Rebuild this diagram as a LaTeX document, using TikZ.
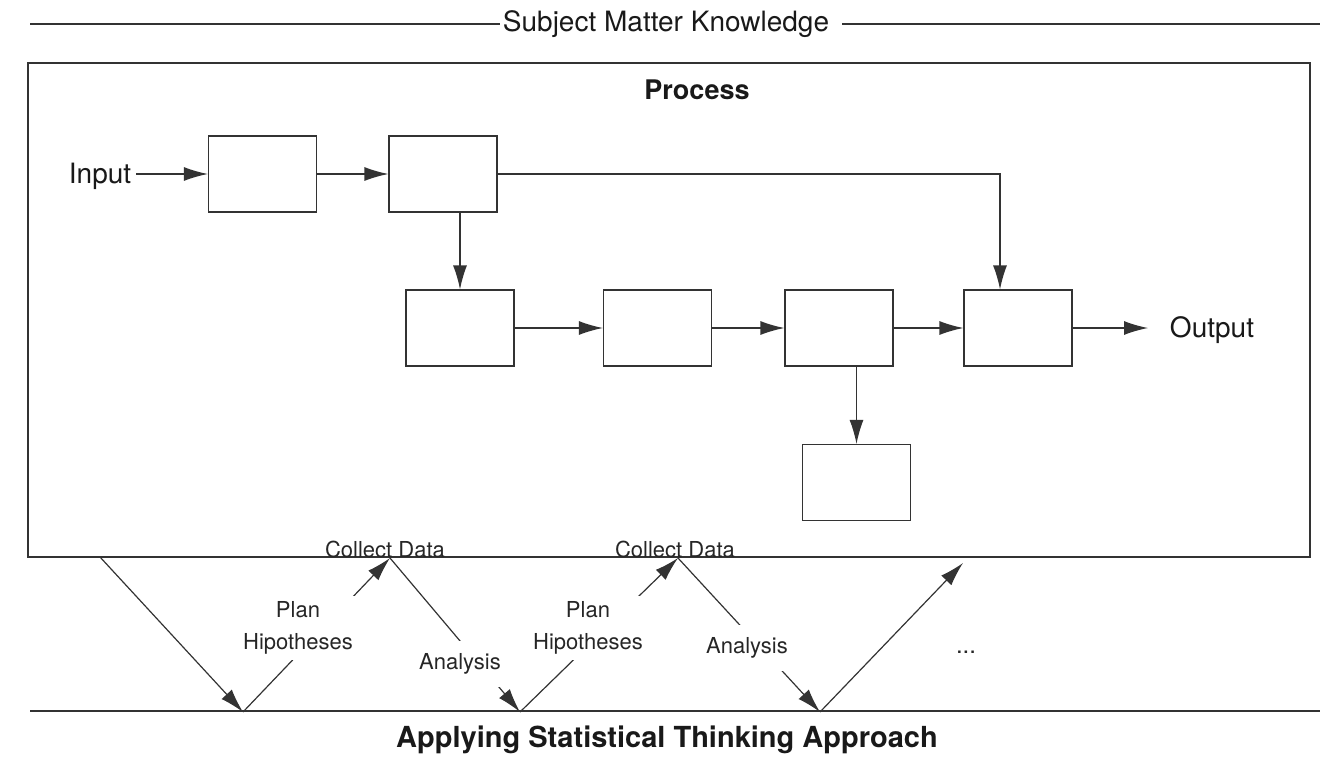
\documentclass[tikz,border=0pt]{standalone}
\usepackage{fontspec}
\setmainfont{TeX Gyre Heros}
\usetikzlibrary{arrows.meta}
\begin{document}
\begin{tikzpicture}[x=1pt,y=-1pt,
  ln/.style={line width=1.2pt,draw=black!80},
  arr/.style={ln,-{Latex[length=24pt,width=14pt]}},
  blk/.style={ln,rectangle,minimum width=108pt,minimum height=76pt,inner sep=0pt},
  big/.style={font=\fontsize{28}{32}\selectfont,text=black!90},
  bigb/.style={font=\fontsize{27}{32}\selectfont\bfseries,text=black!90},
  sml/.style={font=\fontsize{22}{32}\selectfont,text=black!85},
  lbl/.style={sml,fill=white,align=center}]
\path[use as bounding box] (0,0) rectangle (1322,757);

% top heading
\node[big,inner sep=3pt] (smk) at (666,24) {Subject Matter Knowledge};
\coordinate (tl) at (30,24);
\coordinate (tr) at (1320,24);
\draw[ln] (tl) -- (smk.west);
\draw[ln] ([xshift=10pt]smk.east) -- (tr);

% process frame
\node[ln,rectangle,minimum width=1282pt,minimum height=494pt,inner sep=0pt] (frame) at (669,310) {};
\node[bigb] (proc) at (697,90) {Process};

% boxes
\node[blk] (b1) at (262.5,174) {};
\node[blk] (b2) at (443,174) {};
\node[blk] (b3) at (460,328) {};
\node[blk] (b4) at (657.5,328) {};
\node[blk] (b5) at (839,328) {};
\node[blk] (b6) at (1018,328) {};
\node[blk] (b7) at (856.5,482.5) {};

\node[big,inner sep=5pt] (in) at (100,176) {Input};
\node[big,inner sep=4pt] (out) at (1212,330) {Output};
\coordinate (oe) at (1148,328);

\draw[arr] (in.east |- b1.west) -- (b1.west);
\draw[arr] (b1.east) -- (b2.west);
\draw[arr] (b2.east) -| ([xshift=-18pt]b6.north);
\draw[arr] (b3.north |- b2.south) -- (b3.north);
\draw[arr] (b3.east) -- (b4.west);
\draw[arr] (b4.east) -- (b5.west);
\draw[arr] (b5.east) -- (b6.west);
\draw[arr] (b6.east) -- (oe);
\draw[arr] (b7.north |- b5.south) -- (b7.north);

% bottom line and title
\coordinate (bl) at (30,711);
\coordinate (br) at (1320,711);
\draw[ln] (bl) -- (br);
\node[font=\fontsize{29}{32}\selectfont\bfseries,text=black!90] (apt) at (667,740) {Applying Statistical Thinking Approach};

% zigzag
\coordinate (p0) at (100,557);
\coordinate (v1) at (243,712);
\coordinate (t1) at (390,558);
\coordinate (v2) at (520,712);
\coordinate (t2) at (678,558);
\coordinate (v3) at (820,712);
\coordinate (p4) at (963,563);
\draw[arr] (p0) -- (v1);
\draw[arr] (v1) -- (t1);
\draw[arr] (t1) -- (v2);
\draw[arr] (v2) -- (t2);
\draw[arr] (t2) -- (v3);
\draw[arr] (v3) -- (p4);

\node[lbl,inner xsep=2pt,inner ysep=6pt] (ph1) at (298,628) {Plan\\Hipotheses};
\node[lbl,inner xsep=4pt,inner ysep=13pt] (an1) at (460,664) {Analysis};
\node[lbl,inner xsep=2pt,inner ysep=6pt] (ph2) at (588,628) {Plan\\Hipotheses};
\node[lbl,inner xsep=4pt,inner ysep=13pt] (an2) at (747,648) {Analysis};
\node[sml,inner sep=0pt,anchor=base] (cd1) at (385,557) {Collect Data};
\node[sml,inner sep=0pt,anchor=base] (cd2) at (675,557) {Collect Data};
\node[font=\fontsize{24}{26}\selectfont,text=black!85] (dots) at (966,652) {...};
\end{tikzpicture}
\end{document}
